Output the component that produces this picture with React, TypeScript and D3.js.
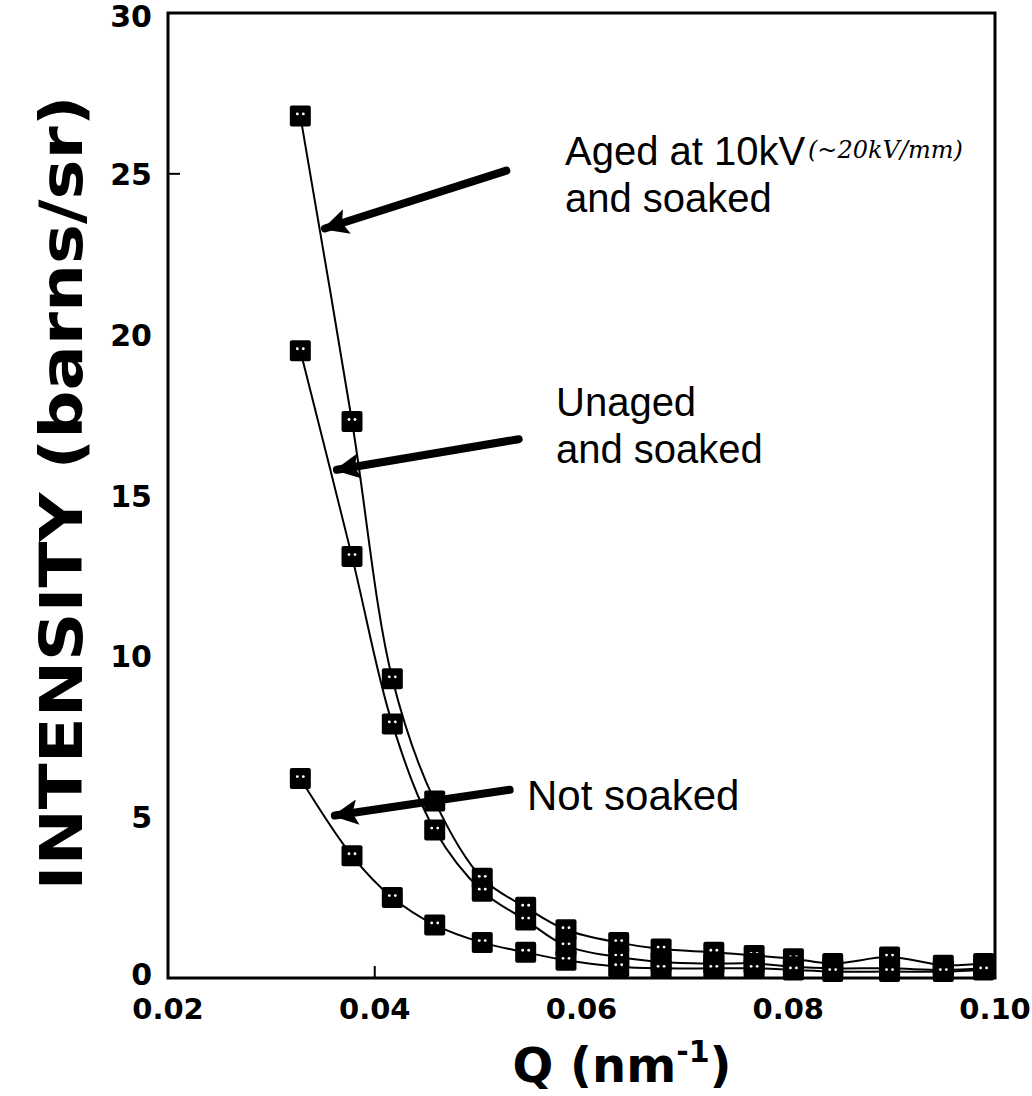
import React from "react";
import * as d3 from "d3";

const qValues = [0.0328, 0.0378, 0.0417, 0.0458, 0.0504, 0.0546, 0.0585, 0.0636, 0.0677, 0.0728, 0.0767, 0.0805, 0.0843, 0.0898, 0.095, 0.0989];
const agedSoaked = [26.8, 17.3, 9.3, 5.5, 3.1, 2.2, 1.5, 1.1, 0.9, 0.8, 0.7, 0.6, 0.45, 0.65, 0.4, 0.45];
const unagedSoaked = [19.5, 13.1, 7.9, 4.6, 2.7, 1.8, 1.0, 0.65, 0.5, 0.45, 0.45, 0.35, 0.3, 0.3, 0.25, 0.3];
const notSoaked = [6.2, 3.8, 2.5, 1.65, 1.1, 0.8, 0.55, 0.35, 0.3, 0.3, 0.3, 0.25, 0.2, 0.2, 0.2, 0.25];
const xTicks = [0.02, 0.04, 0.06, 0.08, 0.1];
const xTickLabels = ["0.02", "0.04", "0.06", "0.08", "0.10"];
const yTicks = [0, 5, 10, 15, 20, 25, 30];

const W = 1032;
const H = 1096;
const x = d3.scaleLinear().domain([0.02, 0.1]).range([168, 995]);
const y = d3.scaleLinear().domain([0, 30]).range([978, 13]);

const line = d3
  .line<[number, number]>()
  .x((d) => x(d[0]))
  .y((d) => y(d[1]))
  .curve(d3.curveCatmullRom.alpha(0.5));

const series = [agedSoaked, unagedSoaked, notSoaked];

// annotation arrows, in data units
const arrows = [
  { from: [0.05273, 25.1], to: [0.03518, 23.3] },
  { from: [0.05392, 16.75], to: [0.03634, 15.8] },
  { from: [0.05305, 5.85], to: [0.03614, 5.05] },
];

const App = () => {
  const tickFont = "'DejaVu Sans', sans-serif";
  return (
    <svg width={W} height={H} style={{ position: "absolute", left: 0, top: 0, background: "#fff" }}>
      <defs>
        <marker id="head" viewBox="0 0 10 10" refX="9" refY="5" markerWidth="3.6" markerHeight="3.2" orient="auto">
          <path d="M0,0 L10,5 L0,10 L2,5 Z" fill="#000" />
        </marker>
      </defs>
      <rect x={x(0.02)} y={y(30)} width={x(0.1) - x(0.02)} height={y(0) - y(30)} fill="none" stroke="#000" strokeWidth={3} />
      {/* the only two ticks visible in the original */}
      <line x1={x(0.02)} x2={x(0.02) + 12} y1={y(25)} y2={y(25)} stroke="#000" strokeWidth={2} />
      <line x1={x(0.04)} x2={x(0.04)} y1={y(0)} y2={y(0) - 12} stroke="#000" strokeWidth={2} />

      {yTicks.map((t) => (
        <text
          key={t}
          x={152}
          y={t === 30 ? 27 : t === 0 ? y(t) + 7 : y(t) + 11}
          textAnchor="end"
          fontFamily={tickFont}
          fontWeight="bold"
          fontSize={30}
        >
          {t}
        </text>
      ))}
      {xTicks.map((t, i) => (
        <text key={t} x={x(t)} y={1019} textAnchor="middle" fontFamily={tickFont} fontWeight="bold" fontSize={29}>
          {xTickLabels[i]}
        </text>
      ))}

      <text
        transform="translate(82,493) rotate(-90)"
        textAnchor="middle"
        fontFamily={tickFont}
        fontWeight="bold"
        fontSize={58}
        textLength={795}
        lengthAdjust="spacingAndGlyphs"
      >
        INTENSITY (barns/sr)
      </text>
      <text x={622} y={1082} textAnchor="middle" fontFamily={tickFont} fontWeight="bold" fontSize={48}>
        Q (nm
        <tspan fontSize={30} dy={-20}>-1</tspan>
        <tspan dy={20}>)</tspan>
      </text>

      {series.map((s, i) => (
        <path key={i} d={line(qValues.map((q, j) => [q, s[j]]) as [number, number][]) || ""} fill="none" stroke="#000" strokeWidth={2} />
      ))}
      {series.map((s, i) =>
        qValues.map((q, j) => (
          <g key={`${i}-${j}`} transform={`translate(${x(q)},${y(s[j])})`}>
            <rect x={-10.5} y={-10.5} width={21} height={21} rx={2} fill="#000" />
            <circle cx={-3} cy={-2} r={1.4} fill="#fff" />
            <circle cx={3} cy={-2} r={1.4} fill="#fff" />
          </g>
        ))
      )}

      {arrows.map((a, i) => (
        <line
          key={i}
          x1={x(a.from[0])}
          y1={y(a.from[1])}
          x2={x(a.to[0])}
          y2={y(a.to[1])}
          stroke="#000"
          strokeWidth={8}
          strokeLinecap="round"
          markerEnd="url(#head)"
        />
      ))}

      <g fontFamily="'Liberation Sans', Arial, sans-serif" fontSize={40}>
        <text x={565} y={165}>Aged at 10kV</text>
        <text x={808} y={158} fontSize={24} fontStyle="italic" fontFamily="'DejaVu Serif', serif">
          (~20kV/mm)
        </text>
        <text x={565} y={212}>and soaked</text>
        <text x={556} y={416}>Unaged</text>
        <text x={556} y={463}>and soaked</text>
        <text x={527} y={810} fontSize={42}>Not soaked</text>
      </g>
    </svg>
  );
};

export default App;
